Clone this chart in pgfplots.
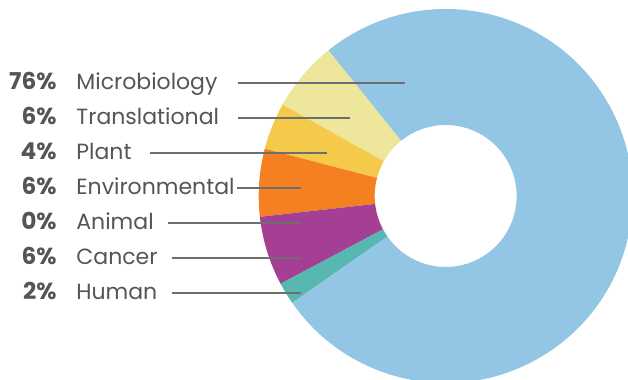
\documentclass[border=0pt]{standalone}
\usepackage{pgfplots}
\pgfplotsset{compat=1.18}
\usepackage{pgfplotstable}
\usepackage{fontspec}
\setmainfont{Poppins}
\definecolor{cMicro}{HTML}{93C6E4}
\definecolor{cTrans}{HTML}{EEE69A}
\definecolor{cPlant}{HTML}{F5CA4B}
\definecolor{cEnv}{HTML}{F58021}
\definecolor{cAnimal}{HTML}{8A8A8A}
\definecolor{cCancer}{HTML}{A43F94}
\definecolor{cHuman}{HTML}{56B8B1}
\definecolor{txt}{HTML}{555555}
\definecolor{lead}{HTML}{6E6E6E}
% slices counter-clockwise, starting at 128.8 degrees
\pgfplotstableread{
label pct val
Translational 6 6.1
Plant 4 4.05
Environmental 6 5.85
Animal 0 0
Cancer 6 6.0
Human 2 1.9
Microbiology 76 76.1
}\slices
\begin{document}
\begin{tikzpicture}[
  lab/.style={inner sep=0pt, text=txt, font=\fontsize{11}{13}\selectfont},
  pc/.style={lab, anchor=base east, font=\fontsize{11.6}{13}\selectfont\bfseries},
  nm/.style={lab, anchor=base west},
]
\useasboundingbox (0,0) rectangle (314pt,190pt);
\begin{axis}[
  anchor=origin, at={(0,0)},
  x=0.5pt, y=0.5pt,
  xmin=0, xmax=628, ymin=0, ymax=380,
  enlargelimits=false, hide axis, clip=true,
]
\pgfplotsextra{
  \gdef\curang{128.8}
  \foreach \i/\col in {0/cTrans,1/cPlant,2/cEnv,3/cAnimal,4/cCancer,5/cHuman,6/cMicro}{
    \pgfplotstablegetelem{\i}{val}\of\slices
    \pgfmathsetmacro\endang{\curang+3.6*\pgfplotsretval}
    \pgfmathparse{\pgfplotsretval>0?1:0}
    \ifnum\pgfmathresult=1
      \fill[\col] (axis cs:445.7,184) ++(\curang:93.5pt)
        arc[start angle=\curang, end angle=\endang, radius=93.5pt]
        -- ++(180+\endang:58pt)
        arc[start angle=\endang, end angle=\curang, radius=35.5pt] -- cycle;
    \fi
    \global\let\curang\endang
  }
}
\addplot[lead, line width=1pt] coordinates {(238,296.7)(405,296.7)};
\addplot[lead, line width=1pt] coordinates {(238,261.7)(350,261.7)};
\addplot[lead, line width=1pt] coordinates {(150,226.7)(327,226.7)};
\addplot[lead, line width=1pt] coordinates {(237,192.3)(301,192.3)};
\addplot[lead, line width=1pt] coordinates {(168,156.7)(301,156.7)};
\addplot[lead, line width=1pt] coordinates {(172,121.7)(301,121.7)};
\addplot[lead, line width=1pt] coordinates {(172,87.3)(301,87.3)};
\node[pc] at (axis cs:57,290.7) {76\%};
\node[nm] at (axis cs:76,290.7) {Microbiology};
\node[pc] at (axis cs:57,255.7) {6\%};
\node[nm] at (axis cs:76,255.7) {Translational};
\node[pc] at (axis cs:57,220.7) {4\%};
\node[nm] at (axis cs:76,220.7) {Plant};
\node[pc] at (axis cs:57,185.7) {6\%};
\node[nm] at (axis cs:76,185.7) {Environmental};
\node[pc] at (axis cs:57,150.7) {0\%};
\node[nm] at (axis cs:76,150.7) {Animal};
\node[pc] at (axis cs:57,115.7) {6\%};
\node[nm] at (axis cs:76,115.7) {Cancer};
\node[pc] at (axis cs:57,80.7) {2\%};
\node[nm] at (axis cs:76,80.7) {Human};
\end{axis}
\end{tikzpicture}
\end{document}
